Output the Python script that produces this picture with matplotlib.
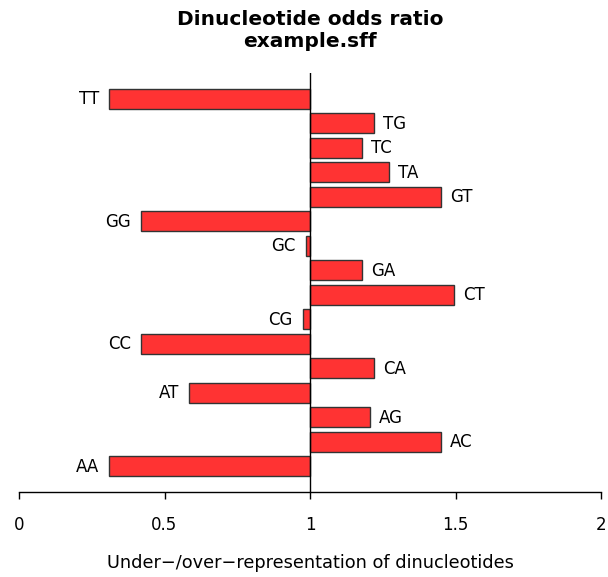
import numpy as np
import matplotlib
matplotlib.use("Agg")
import matplotlib.pyplot as plt

plt.rcParams['font.family'] = ['DejaVu Sans']

# dinucleotide odds ratios, bottom to top
dinucs = ['AA', 'AC', 'AG', 'AT', 'CA', 'CC', 'CG', 'CT',
          'GA', 'GC', 'GG', 'GT', 'TA', 'TC', 'TG', 'TT']
ratios = [0.31, 1.45, 1.205, 0.585, 1.22, 0.42, 0.975, 1.495,
          1.18, 0.985, 0.42, 1.45, 1.27, 1.18, 1.22, 0.31]
xticks = [0, 0.5, 1, 1.5, 2]
xticklabels = ['0', '0.5', '1', '1.5', '2']

W, H = 608, 577
fig = plt.figure(figsize=(W / 100, H / 100), dpi=100)
ax = fig.add_axes([19 / W, (H - 492) / H, (601 - 19) / W, (492 - 73) / H])

# R barplot layout: width 1, space 0.2
ypos = 0.7 + 1.2 * np.arange(len(dinucs))
vals = np.array(ratios)
ax.barh(ypos, vals - 1, left=1, height=1.0, color='#FF3333',
        edgecolor='#333333', linewidth=1.0)
ax.axvline(1, color='black', linewidth=1.0)

fs = 12
for y, v, lab in zip(ypos, vals, dinucs):
    if v >= 1:
        ax.annotate(lab, (v, y), xytext=(6.5, -0.5), textcoords='offset points',
                    ha='left', va='center', fontsize=fs)
    else:
        ax.annotate(lab, (v, y), xytext=(-7.5, -0.5), textcoords='offset points',
                    ha='right', va='center', fontsize=fs)

ax.set_xlim(0, 2)
ax.set_ylim(-0.56, 19.96)
ax.set_yticks([])
for s in ['top', 'right', 'left']:
    ax.spines[s].set_visible(False)
ax.spines['bottom'].set_bounds(0, 2)
ax.spines['bottom'].set_linewidth(1.0)
ax.set_xticks(xticks)
ax.set_xticklabels(xticklabels, fontsize=fs)
ax.tick_params(axis='x', direction='out', length=5, width=1.0, pad=12)
ax.set_xlabel('Under\u2212/over\u2212representation of dinucleotides', fontsize=12.8, labelpad=15)
ax.set_title('Dinucleotide odds ratio\nexample.sff', fontsize=14.5, fontweight='bold',
             pad=19, linespacing=1.15)

fig.savefig('out.png', dpi=100)
